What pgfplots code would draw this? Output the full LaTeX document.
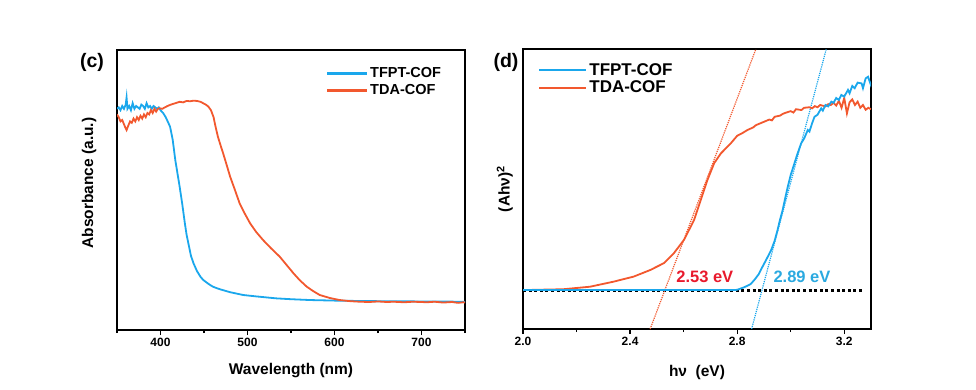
\documentclass[border=0pt]{standalone}
\usepackage{fontspec}
\setmainfont{Liberation Sans}
\usepackage{pgfplots}
\pgfplotsset{compat=1.18}
\definecolor{cblue}{HTML}{1AA7EC}
\definecolor{cred}{HTML}{F2582E}
\definecolor{lred}{HTML}{E8192C}
\definecolor{lblue}{HTML}{2AA9E0}
\pgfplotsset{
  panel/.style={
    scale only axis, width=348pt, height=280pt,
    ymin=0, ymax=1, ytick=\empty,
    axis line style={line width=1.5pt},
    tick align=outside, xtick pos=bottom,
    major tick length=5pt, minor tick length=3pt,
    every tick/.style={line width=1.2pt, black},
    tick label style={font=\bfseries\fontsize{12}{14}\selectfont},
    /pgf/number format/assume math mode=true,
    label style={font=\bfseries\fontsize{15.5}{18}\selectfont},
    legend cell align=left,
  },
}
\begin{document}
\begin{tikzpicture}
\useasboundingbox (0,0) rectangle (976pt,389pt);
% ---------- (c) ----------
\begin{axis}[panel, at={(117pt,59pt)}, anchor=south west,
  xmin=350, xmax=750, xtick={400,500,600,700}, minor xtick={350,450,550,650,750},
  xlabel={Wavelength (nm)}, ylabel={Absorbance (a.u.)},
  xlabel style={at={(axis description cs:0.5,-0.143)}, anchor=center},
  ylabel style={at={(axis description cs:-0.08,0.525)}, anchor=center},
  legend style={draw=none, fill=none, at={(0.60,0.945)}, anchor=north west,
    font=\bfseries\fontsize{14.5}{17}\selectfont, row sep=1.5pt, inner sep=0pt},
  legend image code/.code={\draw[#1,line width=2.2pt] (0pt,0pt) -- (40pt,0pt);},
]
\addplot[cblue, line width=1.8pt] coordinates {
(350,0.790)(352,0.795)(354,0.785)(356,0.800)(358,0.790)(360,0.805)(361,0.830)(362,0.790)
(364,0.800)(366,0.785)(368,0.810)(370,0.790)(372,0.800)(374,0.795)(376,0.790)(378,0.805)
(380,0.800)(382,0.790)(384,0.810)(386,0.795)(388,0.800)(390,0.790)(392,0.800)(394,0.795)
(396,0.790)(398,0.795)(400,0.785)(403,0.775)(406,0.760)(409,0.740)(411,0.726)(414,0.680)
(417,0.607)(420,0.550)(422,0.512)(425,0.450)(428,0.381)(430,0.340)(432,0.310)(435,0.265)
(438,0.238)(442,0.210)(446,0.190)(449,0.179)(455,0.165)(460,0.155)(465,0.149)(470,0.144)
(480,0.135)(495,0.125)(510,0.120)(533,0.113)(550,0.110)(572,0.107)(600,0.105)(620,0.104)
(650,0.103)(700,0.102)(750,0.101)};
\addlegendentry{TFPT-COF}
\addplot[cred, line width=1.8pt] coordinates {
(350,0.770)(352,0.760)(354,0.745)(356,0.750)(358,0.735)(360,0.720)(361,0.714)(363,0.730)
(365,0.745)(367,0.740)(369,0.755)(371,0.745)(373,0.760)(375,0.750)(377,0.765)(379,0.755)
(381,0.770)(383,0.760)(385,0.775)(387,0.770)(389,0.785)(391,0.775)(393,0.790)(395,0.780)
(397,0.790)(399,0.792)(402,0.790)(405,0.795)(408,0.800)(411,0.804)(415,0.808)(419,0.812)
(422,0.815)(426,0.813)(430,0.818)(434,0.817)(438,0.819)(442,0.818)(446,0.815)(449,0.810)
(452,0.805)(455,0.798)(458,0.785)(461,0.760)(463,0.730)(466,0.690)(469,0.660)(472,0.631)
(476,0.590)(480,0.548)(485,0.505)(491,0.452)(497,0.415)(503,0.381)(510,0.350)(518,0.321)
(527,0.292)(537,0.262)(545,0.232)(553,0.202)(560,0.178)(568,0.155)(575,0.140)(583,0.125)
(595,0.114)(606,0.107)(618,0.103)(629,0.101)(640,0.100)(650,0.102)(660,0.100)(668,0.101)
(680,0.099)(690,0.101)(700,0.100)(706,0.099)(715,0.101)(725,0.098)(735,0.100)(742,0.097)
(748,0.099)(750,0.098)};
\addlegendentry{TDA-COF}
\end{axis}
\node[font=\bfseries\fontsize{19.5}{22}\selectfont] at (92pt,327pt) {(c)};
% ---------- (d) ----------
\begin{axis}[panel, at={(523pt,60pt)}, anchor=south west,
  xmin=2.0, xmax=3.3, xtick={2.0,2.4,2.8,3.2}, minor xtick={2.2,2.6,3.0},
  xticklabel style={/pgf/number format/.cd, fixed, fixed zerofill, precision=1},
  xlabel={hν\ \ (eV)}, ylabel={(Ahν)\textsuperscript{2}},
  xlabel style={at={(axis description cs:0.5,-0.154)}, anchor=center},
  ylabel style={at={(axis description cs:-0.052,0.50)}, anchor=center},
  legend style={draw=none, fill=none, at={(0.043,0.957)}, anchor=north west,
    font=\bfseries\fontsize{17}{19.5}\selectfont, row sep=0.5pt, inner sep=0pt},
  legend image code/.code={\draw[#1,line width=2.2pt] (0pt,0pt) -- (47pt,0pt);},
]
\addlegendimage{cblue}\addlegendentry{TFPT-COF}
\addlegendimage{cred}\addlegendentry{TDA-COF}
\addplot[black, line width=3pt, dash pattern=on 3pt off 2.6pt, forget plot] coordinates {(2.0,0.139)(3.265,0.139)};
\addplot[cred, line width=1.2pt, dash pattern=on 1.2pt off 1pt, forget plot] coordinates {(2.475,0)(2.87,1.0)};
\addplot[cblue, line width=1.2pt, dash pattern=on 1.2pt off 1pt, forget plot] coordinates {(2.854,0)(3.133,1.0)};
\addplot[cred, line width=1.8pt, forget plot] coordinates {
(2.000,0.139)(2.150,0.142)(2.250,0.151)(2.338,0.169)(2.413,0.187)(2.476,0.211)(2.526,0.235)
(2.563,0.270)(2.601,0.318)(2.639,0.389)(2.664,0.461)(2.689,0.532)(2.714,0.592)(2.739,0.627)
(2.776,0.663)(2.80,0.690)(2.82,0.700)(2.839,0.711)(2.86,0.720)(2.87,0.728)(2.88,0.732)
(2.90,0.740)(2.92,0.748)(2.93,0.745)(2.94,0.758)(2.96,0.762)(2.97,0.768)(2.98,0.772)
(3.00,0.778)(3.01,0.773)(3.02,0.785)(3.04,0.782)(3.05,0.790)(3.07,0.792)(3.08,0.788)
(3.09,0.796)(3.10,0.792)(3.11,0.800)(3.13,0.795)(3.14,0.803)(3.15,0.800)(3.16,0.808)
(3.17,0.798)(3.18,0.815)(3.19,0.790)(3.20,0.825)(3.21,0.770)(3.22,0.810)(3.23,0.820)
(3.24,0.800)(3.25,0.812)(3.26,0.790)(3.27,0.800)(3.28,0.783)(3.29,0.790)(3.30,0.785)};
\addplot[cblue, line width=1.8pt, forget plot] coordinates {
(2.000,0.139)(2.200,0.139)(2.400,0.139)(2.600,0.139)(2.789,0.139)(2.80,0.140)(2.826,0.149)
(2.85,0.160)(2.864,0.175)(2.88,0.195)(2.895,0.223)(2.91,0.250)(2.927,0.282)(2.94,0.315)
(2.951,0.354)(2.96,0.390)(2.970,0.425)(2.98,0.470)(2.989,0.508)(3.00,0.550)(3.014,0.592)
(3.025,0.625)(3.039,0.663)(3.05,0.680)(3.064,0.711)(3.07,0.705)(3.08,0.735)(3.089,0.758)
(3.10,0.765)(3.114,0.788)(3.12,0.780)(3.13,0.800)(3.14,0.795)(3.152,0.812)(3.16,0.808)
(3.17,0.825)(3.18,0.818)(3.189,0.836)(3.20,0.830)(3.214,0.854)(3.22,0.842)(3.23,0.868)
(3.239,0.860)(3.25,0.880)(3.265,0.877)(3.27,0.860)(3.28,0.895)(3.289,0.901)(3.30,0.870)
(3.306,0.880)};
\node[lred, font=\bfseries\fontsize{16.5}{19}\selectfont] at (axis cs:2.679,0.188) {2.53 eV};
\node[lblue, font=\bfseries\fontsize{16.5}{19}\selectfont] at (axis cs:3.042,0.188) {2.89 eV};
\end{axis}
\node[font=\bfseries\fontsize{19.5}{22}\selectfont] at (506pt,327pt) {(d)};
\end{tikzpicture}
\end{document}
